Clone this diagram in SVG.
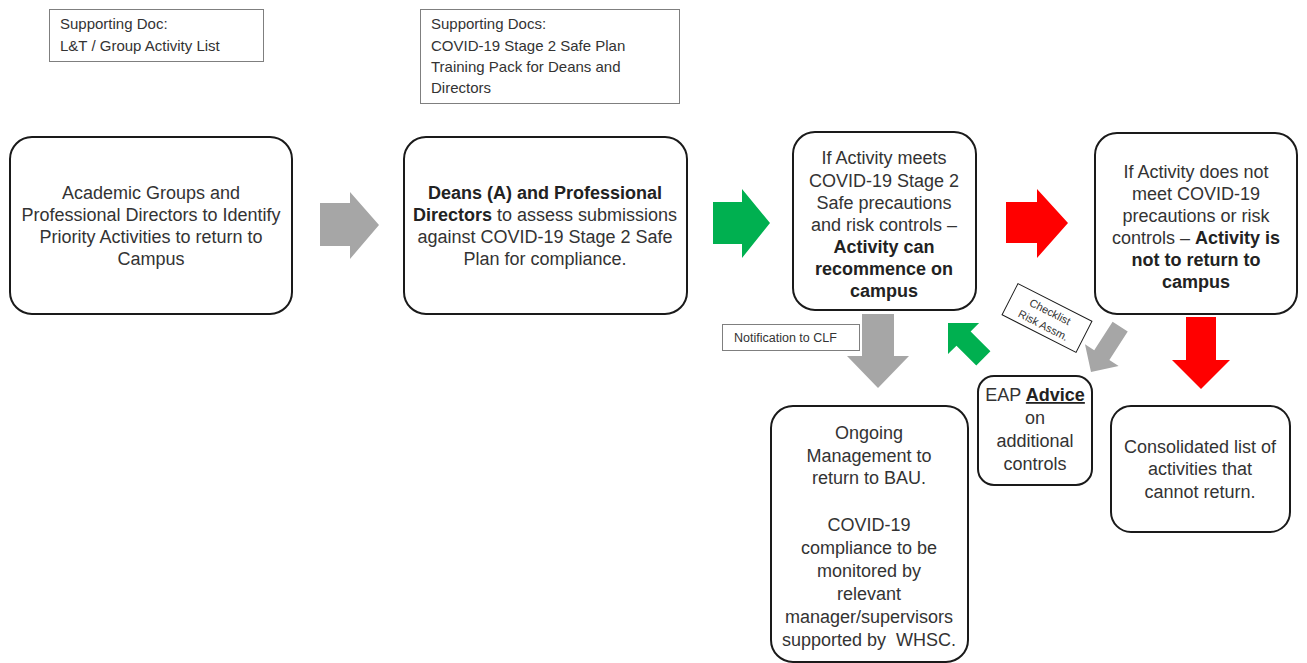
<svg xmlns="http://www.w3.org/2000/svg" width="1307" height="663" viewBox="0 0 1307 663">
<style>
text{font-family:"Liberation Sans",Arial,sans-serif;fill:#333}
.t{font-size:18px;text-anchor:middle}
.d{font-size:15px}
.b{font-weight:bold;fill:#222}
.node{fill:#fff;stroke:#1a1a1a;stroke-width:2}
.doc{fill:#fff;stroke:#7f7f7f;stroke-width:1}
.gray{fill:#a6a6a6}
.green{fill:#00b050}
.red{fill:#ff0000}
</style>
<rect width="1307" height="663" fill="#fff"/>
<g id="doc1">
<rect class="doc" x="49.5" y="9.5" width="214" height="52"/>
<text class="d" x="60" y="29">Supporting Doc:</text>
<text class="d" x="60" y="51">L&amp;T / Group Activity List</text>
</g>
<g id="doc2">
<rect class="doc" x="420.5" y="9.5" width="259" height="94"/>
<text class="d" x="431" y="29">Supporting Docs:</text>
<text class="d" x="431" y="51">COVID-19 Stage 2 Safe Plan</text>
<text class="d" x="431" y="72">Training Pack for Deans and</text>
<text class="d" x="431" y="93">Directors</text>
</g>
<g id="connectors">
<path class="gray" d="M320,203 L350,203 L350,192 L379,225 L350,259 L350,246 L320,246 Z"/>
<path class="green" d="M713,202 L742,202 L742,189 L770,223 L742,258 L742,244 L713,244 Z"/>
<path class="red" d="M1006,202 L1037,202 L1037,189 L1068,223 L1037,258 L1037,243 L1006,243 Z"/>
<path class="gray" d="M862,314 L894,314 L894,356 L909,356 L878,388 L847,356 L862,356 Z"/>
<path class="red" d="M1186,317 L1216,317 L1216,360 L1230,360 L1201,389 L1172,360 L1186,360 Z"/>
<path class="green" transform="translate(948,323) rotate(225)" d="M0,0 L-22,-22 L-22,-10 L-50,-10 L-50,10 L-22,10 L-22,22 Z"/>
<path class="gray" transform="translate(1091,372) rotate(122.7)" d="M0,0 L-20,-20 L-20,-9 L-54,-9 L-54,9 L-20,9 L-20,20 Z"/>
</g>
<g id="notification">
<rect class="doc" x="722.5" y="324.5" width="137" height="26"/>
<text x="734" y="342" style="font-size:12.5px">Notification to CLF</text>
</g>
<g id="checklist" transform="translate(1047,318) rotate(27)">
<rect x="-41.5" y="-17.5" width="83" height="35" fill="#fff" stroke="#1a1a1a" stroke-width="1"/>
<text x="0" y="-3" style="font-size:11px;text-anchor:middle">Checklist</text>
<text x="0" y="12" style="font-size:11px;text-anchor:middle">Risk Assm.</text>
</g>
<g id="box1">
<rect class="node" x="10" y="137" width="282" height="177" rx="22"/>
<text class="t" x="151" y="199">Academic Groups and</text>
<text class="t" x="151" y="221">Professional Directors to Identify</text>
<text class="t" x="151" y="243">Priority Activities to return to</text>
<text class="t" x="151" y="265">Campus</text>
</g>
<g id="box2">
<rect class="node" x="404" y="137" width="283" height="177" rx="22"/>
<text class="t b" x="545" y="199">Deans (A) and Professional</text>
<text class="t" x="545" y="221"><tspan class="b">Directors</tspan> to assess submissions</text>
<text class="t" x="545" y="243">against COVID-19 Stage 2 Safe</text>
<text class="t" x="545" y="265">Plan for compliance.</text>
</g>
<g id="box3">
<rect class="node" x="793" y="132" width="183" height="178" rx="22"/>
<text class="t" x="884" y="164">If Activity meets</text>
<text class="t" x="884" y="187">COVID-19 Stage 2</text>
<text class="t" x="884" y="209">Safe precautions</text>
<text class="t" x="884" y="231">and risk controls –</text>
<text class="t b" x="884" y="253">Activity can</text>
<text class="t b" x="884" y="275">recommence on</text>
<text class="t b" x="884" y="297">campus</text>
</g>
<g id="box4">
<rect class="node" x="1095" y="133" width="202" height="181" rx="22"/>
<text class="t" x="1196" y="178">If Activity does not</text>
<text class="t" x="1196" y="200">meet COVID-19</text>
<text class="t" x="1196" y="222">precautions or risk</text>
<text class="t" x="1196" y="244">controls – <tspan class="b">Activity is</tspan></text>
<text class="t b" x="1196" y="266">not to return to</text>
<text class="t b" x="1196" y="288">campus</text>
</g>
<g id="ongoing">
<rect class="node" x="771" y="406" width="197" height="256" rx="22"/>
<text class="t" x="869" y="439">Ongoing</text>
<text class="t" x="869" y="462">Management to</text>
<text class="t" x="869" y="484">return to BAU.</text>
<text class="t" x="869" y="531">COVID-19</text>
<text class="t" x="869" y="554">compliance to be</text>
<text class="t" x="869" y="577">monitored by</text>
<text class="t" x="869" y="600">relevant</text>
<text class="t" x="869" y="623">manager/supervisors</text>
<text class="t" x="869" y="646">supported by&#160; WHSC.</text>
</g>
<g id="eap">
<rect class="node" x="978" y="376" width="114" height="109" rx="16"/>
<text class="t" x="1035" y="401">EAP <tspan class="b" text-decoration="underline">Advice</tspan></text>
<text class="t" x="1035" y="424">on</text>
<text class="t" x="1035" y="447">additional</text>
<text class="t" x="1035" y="470">controls</text>
</g>
<g id="consolidated">
<rect class="node" x="1111" y="406" width="179" height="126" rx="20"/>
<text class="t" x="1200" y="453">Consolidated list of</text>
<text class="t" x="1200" y="475">activities that</text>
<text class="t" x="1200" y="498">cannot return.</text>
</g>
</svg>
